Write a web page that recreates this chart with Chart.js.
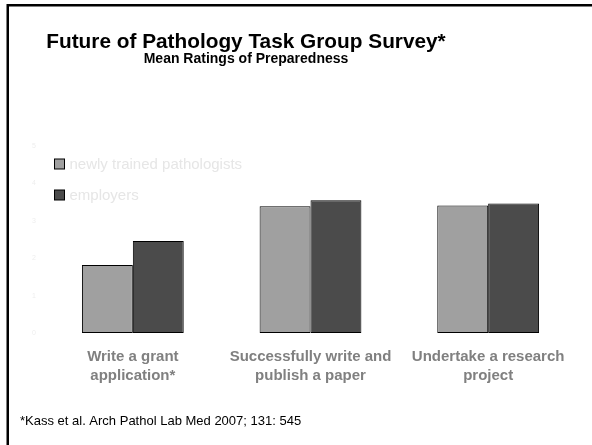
<!DOCTYPE html>
<html>
<head>
<meta charset="utf-8">
<script src="https://cdn.jsdelivr.net/npm/chart.js@4"></script>
<style>
  html, body { margin: 0; padding: 0; background: #ffffff; }
  #wrap { width: 592px; height: 445px; position: relative; }
</style>
</head>
<body>
<div id="wrap"><canvas id="myChart" width="592" height="445"></canvas></div>
<script>
const categories = [
    ['Write a grant', 'application*'],
    ['Successfully write and', 'publish a paper'],
    ['Undertake a research', 'project']
];
const seriesNames = ['newly trained pathologists', 'employers'];
const newlyTrained = [1.82, 3.39, 3.41];
const employers = [2.46, 3.55, 3.46];
const yTicks = [0, 1, 2, 3, 4, 5];

const titleText = 'Future of Pathology Task Group Survey*';
const subtitleText = 'Mean Ratings of Preparedness';
const footnoteText = '*Kass et al. Arch Pathol Lab Med 2007; 131: 545';

const FONT = "'Liberation Sans', Arial, sans-serif";

// frame, titles, footnote and the little legend drawn over the plot
const slideDecor = {
    id: 'slideDecor',
    beforeDraw(chart) {
        const c = chart.ctx;
        c.save();
        c.fillStyle = '#ffffff';
        c.fillRect(0, 0, chart.width, chart.height);
        c.strokeStyle = '#000000';
        c.lineWidth = 2.5;
        c.beginPath();
        c.moveTo(7.75, chart.height + 2);
        c.lineTo(7.75, 5.25);
        c.lineTo(chart.width + 2, 5.25);
        c.stroke();

        c.fillStyle = '#000000';
        c.textAlign = 'center';
        c.textBaseline = 'alphabetic';
        c.font = 'bold 20.8px ' + FONT;
        c.fillText(titleText, 246, 48);
        c.font = 'bold 14px ' + FONT;
        c.fillText(subtitleText, 246, 63);

        c.textAlign = 'left';
        c.font = '13px ' + FONT;
        c.fillText(footnoteText, 20, 425);
        c.restore();
    },
    afterDatasetsDraw(chart) {
        const c = chart.ctx;
        const area = chart.chartArea;
        c.save();
        c.font = '15px ' + FONT;
        c.textBaseline = 'middle';
        c.textAlign = 'left';
        chart.data.datasets.forEach((ds, i) => {
            const bx = area.left + 10.5;
            const by = area.top + 13 + i * 31;
            c.fillStyle = ds.backgroundColor;
            c.fillRect(bx, by, 10, 10);
            c.strokeStyle = '#000000';
            c.lineWidth = 1;
            c.strokeRect(bx, by, 10, 10);
            c.fillStyle = '#e6e6e6';
            c.fillText(ds.label, bx + 15, by + 5.5);
        });
        c.restore();
    }
};

const ctx = document.getElementById('myChart');

let chart = new Chart(ctx, {
    type: 'bar',
    data: {
        labels: categories,
        datasets: [{
            label: seriesNames[0],
            data: newlyTrained,
            backgroundColor: '#a0a0a0',
            borderColor: '#000000',
            borderWidth: 1,
            borderSkipped: false
        }, {
            label: seriesNames[1],
            data: employers,
            backgroundColor: '#4b4b4b',
            borderColor: '#000000',
            borderWidth: 1,
            borderSkipped: false
        }]
    },
    options: {
        responsive: false,
        animation: false,
        devicePixelRatio: 1,
        layout: {
            padding: { left: 0, right: 15, top: 146, bottom: 32 }
        },
        datasets: {
            bar: {
                categoryPercentage: 0.573,
                barPercentage: 1.0
            }
        },
        plugins: {
            legend: { display: false },
            title: { display: false },
            tooltip: { enabled: false }
        },
        scales: {
            x: {
                grid: { display: false, drawTicks: false },
                border: { display: false },
                ticks: {
                    color: '#808080',
                    font: { family: FONT, size: 15, weight: 'bold', lineHeight: 1.24 },
                    padding: 15,
                    maxRotation: 0,
                    autoSkip: false
                },
                afterFit(scale) { scale.height = 80; }
            },
            y: {
                min: 0,
                max: 5,
                grid: { display: false, drawTicks: false },
                border: { display: false },
                afterBuildTicks(scale) {
                    scale.ticks = yTicks.map(v => ({ value: v }));
                },
                ticks: {
                    color: '#eeeeee',
                    font: { family: FONT, size: 7 },
                    padding: 8
                },
                afterFit(scale) { scale.width = 44; }
            }
        }
    },
    plugins: [slideDecor]
});
</script>
</body>
</html>
